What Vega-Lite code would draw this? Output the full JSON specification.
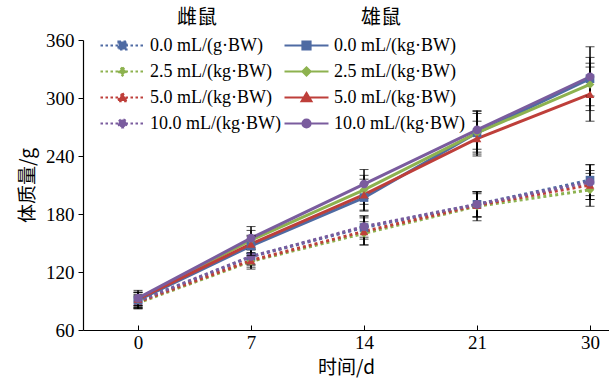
{
  "$schema": "https://vega.github.io/schema/vega-lite/v6.json",
  "autosize": {"type": "none"},
  "padding": {"left": 83, "top": 40, "right": 0, "bottom": 56},
  "width": 526,
  "height": 290,
  "background": "white",
  "config": {
    "view": {"stroke": null},
    "axis": {"grid": false, "domainColor": "black", "tickColor": "black", "labelColor": "black", "titleColor": "black", "labelFont": "Liberation Serif", "labelFontSize": 19, "titleFont": "Noto Sans CJK SC", "titleFontSize": 19, "titleFontWeight": "normal"},
    "legend": {"labelFont": "Liberation Serif", "labelFontSize": 18, "labelColor": "black", "titleFont": "Noto Sans CJK SC", "titleFontSize": 20, "titleFontWeight": "normal", "titleColor": "black", "titleAnchor": "middle", "titlePadding": 8, "rowPadding": 7, "symbolSize": 256, "labelOffset": 18, "labelLimit": 300, "symbolOpacity": 1, "symbolStrokeWidth": 2.2}
  },
  "data": {"values": [
    {"sex": "F", "dose": "0.0", "t": 0, "w": 89, "sd": 7},
    {"sex": "F", "dose": "0.0", "t": 1, "w": 136, "sd": 8},
    {"sex": "F", "dose": "0.0", "t": 2, "w": 166, "sd": 12},
    {"sex": "F", "dose": "0.0", "t": 3, "w": 190, "sd": 13},
    {"sex": "F", "dose": "0.0", "t": 4, "w": 215, "sd": 16},
    {"sex": "F", "dose": "2.5", "t": 0, "w": 88, "sd": 6},
    {"sex": "F", "dose": "2.5", "t": 1, "w": 131, "sd": 8},
    {"sex": "F", "dose": "2.5", "t": 2, "w": 160, "sd": 12},
    {"sex": "F", "dose": "2.5", "t": 3, "w": 188, "sd": 15},
    {"sex": "F", "dose": "2.5", "t": 4, "w": 205, "sd": 17},
    {"sex": "F", "dose": "5.0", "t": 0, "w": 89, "sd": 6},
    {"sex": "F", "dose": "5.0", "t": 1, "w": 132, "sd": 7},
    {"sex": "F", "dose": "5.0", "t": 2, "w": 162, "sd": 14},
    {"sex": "F", "dose": "5.0", "t": 3, "w": 189, "sd": 12},
    {"sex": "F", "dose": "5.0", "t": 4, "w": 210, "sd": 15},
    {"sex": "F", "dose": "10.0", "t": 0, "w": 90, "sd": 7},
    {"sex": "F", "dose": "10.0", "t": 1, "w": 136, "sd": 9},
    {"sex": "F", "dose": "10.0", "t": 2, "w": 167, "sd": 11},
    {"sex": "F", "dose": "10.0", "t": 3, "w": 190, "sd": 13},
    {"sex": "F", "dose": "10.0", "t": 4, "w": 213, "sd": 18},
    {"sex": "M", "dose": "0.0", "t": 0, "w": 91, "sd": 8},
    {"sex": "M", "dose": "0.0", "t": 1, "w": 147, "sd": 10},
    {"sex": "M", "dose": "0.0", "t": 2, "w": 197, "sd": 14},
    {"sex": "M", "dose": "0.0", "t": 3, "w": 264, "sd": 20},
    {"sex": "M", "dose": "0.0", "t": 4, "w": 320, "sd": 33},
    {"sex": "M", "dose": "2.5", "t": 0, "w": 92, "sd": 7},
    {"sex": "M", "dose": "2.5", "t": 1, "w": 153, "sd": 10},
    {"sex": "M", "dose": "2.5", "t": 2, "w": 205, "sd": 15},
    {"sex": "M", "dose": "2.5", "t": 3, "w": 264, "sd": 22},
    {"sex": "M", "dose": "2.5", "t": 4, "w": 314, "sd": 22},
    {"sex": "M", "dose": "5.0", "t": 0, "w": 92, "sd": 7},
    {"sex": "M", "dose": "5.0", "t": 1, "w": 149, "sd": 9},
    {"sex": "M", "dose": "5.0", "t": 2, "w": 200, "sd": 16},
    {"sex": "M", "dose": "5.0", "t": 3, "w": 258, "sd": 18},
    {"sex": "M", "dose": "5.0", "t": 4, "w": 304, "sd": 28},
    {"sex": "M", "dose": "10.0", "t": 0, "w": 93, "sd": 8},
    {"sex": "M", "dose": "10.0", "t": 1, "w": 155, "sd": 12},
    {"sex": "M", "dose": "10.0", "t": 2, "w": 211, "sd": 15},
    {"sex": "M", "dose": "10.0", "t": 3, "w": 267, "sd": 20},
    {"sex": "M", "dose": "10.0", "t": 4, "w": 322, "sd": 20}
  ]},
  "encoding": {
    "x": {"field": "t", "type": "quantitative",
      "scale": {"domain": [-0.487, 4.168], "nice": false, "zero": false},
      "axis": {"title": "时间/d", "values": [0, 1, 2, 3, 4], "labelExpr": "['0','7','14','21','30'][datum.value]", "tickSize": -5, "labelPadding": 8, "titlePadding": 6, "domainWidth": 1.2}},
    "y": {"field": "w", "type": "quantitative",
      "scale": {"domain": [60, 360], "nice": false, "zero": false},
      "axis": {"title": "体质量/g", "values": [60, 120, 180, 240, 300, 360], "tickSize": 5, "labelPadding": 4, "titlePadding": 8, "domainWidth": 1.2}}
  },
  "layer": [
    {
      "transform": [{"filter": "datum.sex === 'F'"}],
      "layer": [
        {"mark": {"type": "point", "filled": true, "opacity": 0, "size": 10},
         "encoding": {
           "color": {"field": "dose", "type": "nominal", "scale": {"domain": ["0.0", "2.5", "5.0", "10.0"], "range": ["#4F6BA3", "#8DB24F", "#BE3F3A", "#7A5C9E"]},
             "legend": {"title": "雌鼠", "orient": "none", "legendX": 30, "legendY": -32, "direction": "vertical", "symbolDash": [2.5, 2.5], "labelExpr": "datum.value === '0.0' ? '0.0 mL/(g·BW)' : datum.value + ' mL/(kg·BW)'"}},
           "stroke": {"field": "dose", "type": "nominal", "scale": {"domain": ["0.0", "2.5", "5.0", "10.0"], "range": ["#4F6BA3", "#8DB24F", "#BE3F3A", "#7A5C9E"]},
             "legend": {"title": "雌鼠", "orient": "none", "legendX": 30, "legendY": -32, "direction": "vertical", "symbolDash": [2.5, 2.5], "labelExpr": "datum.value === '0.0' ? '0.0 mL/(g·BW)' : datum.value + ' mL/(kg·BW)'"}},
           "shape": {"field": "dose", "type": "nominal", "scale": {"domain": ["0.0", "2.5", "5.0", "10.0"], "range": ["M-2.75,0H2.75M-0.5,-0.5H0.5V0.5H-0.5Z", "M-2.75,0H2.75M0,-0.5L0.5,0L0,0.5L-0.5,0Z", "M-2.75,0H2.75M0,-0.55L0.6,0.45H-0.6Z", "M-2.75,0H2.75M-0.5,0A0.5,0.5,0,1,0,0.5,0A0.5,0.5,0,1,0,-0.5,0Z"]},
             "legend": {"title": "雌鼠", "orient": "none", "legendX": 30, "legendY": -32, "direction": "vertical", "symbolDash": [2.5, 2.5], "labelExpr": "datum.value === '0.0' ? '0.0 mL/(g·BW)' : datum.value + ' mL/(kg·BW)'"}}
         }},
        {"mark": {"type": "line", "strokeWidth": 3, "strokeDash": [3, 3]},
         "encoding": {"color": {"field": "dose", "type": "nominal", "scale": {"domain": ["0.0", "2.5", "5.0", "10.0"], "range": ["#4F6BA3", "#8DB24F", "#BE3F3A", "#7A5C9E"]}, "legend": null}}},
        {"mark": {"type": "errorbar", "color": "black", "ticks": {"size": 9, "strokeWidth": 1.5}, "rule": {"strokeWidth": 1.5}},
         "encoding": {"yError": {"field": "sd"}}},
        {"mark": {"type": "point", "filled": true, "opacity": 1, "size": 75},
         "encoding": {
           "shape": {"condition": [{"test": "datum.dose === '0.0'", "value": "square"}, {"test": "datum.dose === '2.5'", "value": "diamond"}, {"test": "datum.dose === '5.0'", "value": "triangle-up"}], "value": "circle"},
           "color": {"field": "dose", "type": "nominal", "scale": {"domain": ["0.0", "2.5", "5.0", "10.0"], "range": ["#4F6BA3", "#8DB24F", "#BE3F3A", "#7A5C9E"]}, "legend": null}
         }}
      ]
    },
    {
      "transform": [{"filter": "datum.sex === 'M'"}],
      "layer": [
        {"mark": {"type": "point", "filled": true, "opacity": 0, "size": 10},
         "encoding": {
           "color": {"field": "dose", "type": "nominal", "scale": {"domain": ["0.0", "2.5", "5.0", "10.0"], "range": ["#4F6BA3", "#8DB24F", "#BE3F3A", "#7A5C9E"]},
             "legend": {"title": "雄鼠", "orient": "none", "legendX": 214, "legendY": -32, "direction": "vertical", "labelExpr": "datum.value + ' mL/(kg·BW)'"}},
           "stroke": {"field": "dose", "type": "nominal", "scale": {"domain": ["0.0", "2.5", "5.0", "10.0"], "range": ["#4F6BA3", "#8DB24F", "#BE3F3A", "#7A5C9E"]},
             "legend": {"title": "雄鼠", "orient": "none", "legendX": 214, "legendY": -32, "direction": "vertical", "labelExpr": "datum.value + ' mL/(kg·BW)'"}},
           "shape": {"field": "dose", "type": "nominal", "scale": {"domain": ["0.0", "2.5", "5.0", "10.0"], "range": ["M-2.75,0H2.75M-0.5,-0.5H0.5V0.5H-0.5Z", "M-2.75,0H2.75M0,-0.5L0.5,0L0,0.5L-0.5,0Z", "M-2.75,0H2.75M0,-0.55L0.6,0.45H-0.6Z", "M-2.75,0H2.75M-0.5,0A0.5,0.5,0,1,0,0.5,0A0.5,0.5,0,1,0,-0.5,0Z"]},
             "legend": {"title": "雄鼠", "orient": "none", "legendX": 214, "legendY": -32, "direction": "vertical", "labelExpr": "datum.value + ' mL/(kg·BW)'"}}
         }},
        {"mark": {"type": "line", "strokeWidth": 3},
         "encoding": {"color": {"field": "dose", "type": "nominal", "scale": {"domain": ["0.0", "2.5", "5.0", "10.0"], "range": ["#4F6BA3", "#8DB24F", "#BE3F3A", "#7A5C9E"]}, "legend": null}}},
        {"mark": {"type": "errorbar", "color": "black", "ticks": {"size": 9, "strokeWidth": 1.5}, "rule": {"strokeWidth": 1.5}},
         "encoding": {"yError": {"field": "sd"}}},
        {"mark": {"type": "point", "filled": true, "opacity": 1, "size": 75},
         "encoding": {
           "shape": {"condition": [{"test": "datum.dose === '0.0'", "value": "square"}, {"test": "datum.dose === '2.5'", "value": "diamond"}, {"test": "datum.dose === '5.0'", "value": "triangle-up"}], "value": "circle"},
           "color": {"field": "dose", "type": "nominal", "scale": {"domain": ["0.0", "2.5", "5.0", "10.0"], "range": ["#4F6BA3", "#8DB24F", "#BE3F3A", "#7A5C9E"]}, "legend": null}
         }}
      ]
    }
  ],
  "resolve": {"scale": {"color": "independent", "shape": "independent", "stroke": "independent"}, "legend": {"color": "independent", "shape": "independent", "stroke": "independent"}}
}
